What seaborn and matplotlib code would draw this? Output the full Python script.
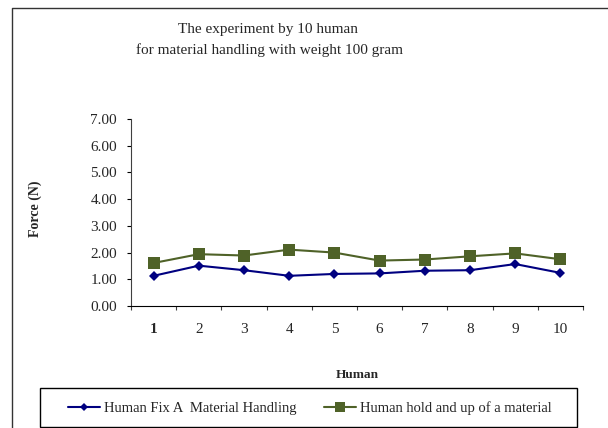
import numpy as np
import pandas as pd
import matplotlib
matplotlib.use("Agg")
import matplotlib.pyplot as plt
import seaborn as sns
from matplotlib.lines import Line2D
from matplotlib.patches import Rectangle
from matplotlib.ticker import FormatStrFormatter, FixedLocator

# data
humans = [1, 2, 3, 4, 5, 6, 7, 8, 9, 10]
fix_a = [1.13, 1.51, 1.34, 1.13, 1.20, 1.22, 1.32, 1.34, 1.57, 1.24]
hold_up = [1.61, 1.94, 1.89, 2.11, 2.00, 1.70, 1.74, 1.86, 1.97, 1.75]
series_names = ["Human Fix A  Material Handling", "Human hold and up of a material"]
y_ticks = [0, 1, 2, 3, 4, 5, 6, 7]

df = pd.DataFrame({
    "Human": humans * 2,
    "Force": fix_a + hold_up,
    "Series": [series_names[0]] * len(humans) + [series_names[1]] * len(humans),
})

sns.set_style("white")
plt.rcParams["font.family"] = ["Liberation Serif", "DejaVu Serif"]

fig = plt.figure(figsize=(6.08, 4.28), dpi=100)
ax = fig.add_axes([131 / 608, 1 - 306 / 428, 452 / 608, 187 / 428])

colors = {series_names[0]: "#000080", series_names[1]: "#4F6228"}
markers = {series_names[0]: "D", series_names[1]: "s"}
sizes = {series_names[0]: 5, series_names[1]: 8}
for name in series_names:
    sub = df[df["Series"] == name]
    sns.lineplot(data=sub, x="Human", y="Force", ax=ax, color=colors[name],
                 marker=markers[name], markersize=sizes[name], markeredgewidth=0,
                 linewidth=1.5, label=name, legend=False)

ax.set_xlim(0.5, 10.5)
ax.set_ylim(0, 7)
ax.set_yticks(y_ticks)
ax.yaxis.set_major_formatter(FormatStrFormatter("%.2f"))
ax.set_xticks(humans)
ax.set_xticklabels([str(h) for h in humans])
ax.get_xticklabels()[0].set_fontweight("bold")
ax.xaxis.set_minor_locator(FixedLocator(np.arange(0.5, 11, 1)))
ax.tick_params(axis="x", which="major", length=0, pad=12, labelsize=11)
ax.tick_params(axis="x", which="minor", length=3, width=0.8, color="#404040", direction="out", bottom=True)
ax.tick_params(axis="y", length=3, width=0.8, color="black", direction="out", left=True, pad=7, labelsize=11)

for s in ["top", "right"]:
    ax.spines[s].set_visible(False)
ax.spines["left"].set_color("#404040")
ax.spines["bottom"].set_color("black")
ax.spines["left"].set_linewidth(0.8)
ax.spines["bottom"].set_linewidth(0.8)

ax.set_xlabel("Human", fontsize=9.5, fontweight="bold")
ax.set_ylabel("Force (N)", fontsize=10, fontweight="bold")
ax.xaxis.set_label_coords(0.5, -63 / 187)
ax.yaxis.set_label_coords(-89 / 452, 0.52)

fig.text(268 / 608, 1 - 29 / 428, "The experiment by 10 human", ha="center", va="center", fontsize=11)
fig.text(269 / 608, 1 - 50 / 428, "for material handling with weight 100 gram", ha="center", va="center", fontsize=11)

# outer chart frame
fig.add_artist(Line2D([12 / 608, 12 / 608, 1], [0, 1 - 8 / 428, 1 - 8 / 428],
                      transform=fig.transFigure, color="#333333", linewidth=1))
# legend box
fig.add_artist(Rectangle((40 / 608, 1 / 428), 537 / 608, 39 / 428, transform=fig.transFigure,
                         fill=False, edgecolor="black", linewidth=1))
handles = [Line2D([], [], color=colors[n], marker=markers[n], markersize=sizes[n] - 1,
                  markeredgewidth=0, linewidth=1.5) for n in series_names]
fig.legend(handles, series_names, loc="center", bbox_to_anchor=(310 / 608, 1 - 408 / 428),
           ncol=2, frameon=False, fontsize=10.5, handlelength=2.2, handletextpad=0.25,
           columnspacing=1.9, borderpad=0, borderaxespad=0)

fig.savefig("out.png", dpi=100)
